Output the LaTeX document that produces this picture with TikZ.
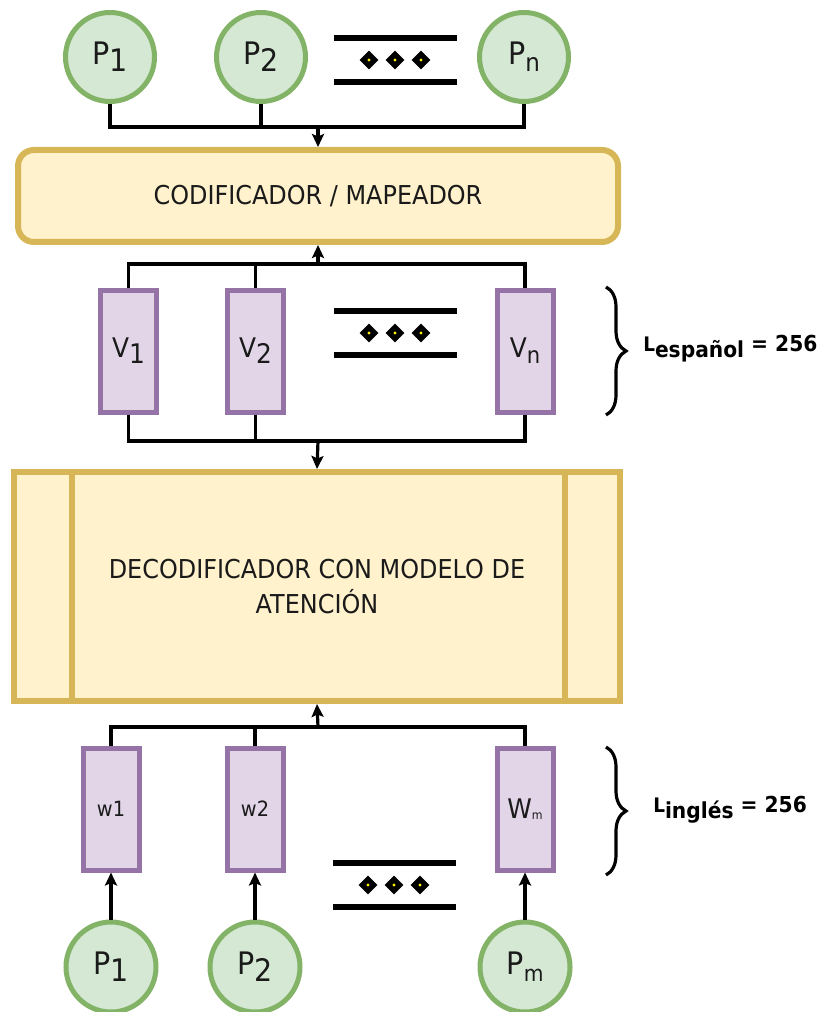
\documentclass[tikz,border=0pt]{standalone}
\usepackage{fontspec}
\setmainfont{DejaVu Sans}[FakeStretch=0.92]
\usetikzlibrary{arrows.meta,shapes.geometric,decorations.pathreplacing}

\definecolor{tokfill}{HTML}{D5E8D4}
\definecolor{tokline}{HTML}{82B366}
\definecolor{vecfill}{HTML}{E1D5E7}
\definecolor{vecline}{HTML}{9673A6}
\definecolor{blkfill}{HTML}{FFF2CC}
\definecolor{blkline}{HTML}{D6B656}
\definecolor{txt}{HTML}{1A1A1A}

% one drawing unit = one pixel = 0.75pt
\newcommand\ppx[1]{#1*0.75pt}
\newcommand\fs[1]{\fontsize{\fpeval{#1*0.75}pt}{\fpeval{#1*0.92}pt}\selectfont}
\newcommand\lowsub[2]{\raisebox{-#1pt}{#2}}

\tikzset{
  token/.style={circle, draw=tokline, fill=tokfill, line width=\ppx{5},
    minimum size=\ppx{89}, inner sep=0pt, text=txt, font=\fs{31}},
  vec/.style={rectangle, draw=vecline, fill=vecfill, line width=\ppx{5},
    minimum width=\ppx{56}, minimum height=\ppx{122}, inner sep=0pt,
    text=txt, font=\fs{27}},
  block/.style={rectangle, draw=blkline, fill=blkfill, line width=\ppx{6},
    inner sep=0pt, text=txt, font=\fs{26}, align=center},
  wire/.style={line width=\ppx{3.2}, draw=black},
  flow/.style={wire, -{Stealth[length=\ppx{13}, width=\ppx{12}, inset=\ppx{2.5}]}},
  bracket/.style={line width=\ppx{3.2}, decorate,
    decoration={brace, amplitude=\ppx{20}, aspect=0.5}},
  lenlabel/.style={anchor=base west, inner sep=0pt, text=black, font=\fs{22}\bfseries},
  bar/.style={line width=\ppx{6}, draw=black},
  gem/.style={diamond, fill=black, minimum size=\ppx{19}, inner sep=0pt},
  ellip/.pic={
    \draw[bar] (-61,-22) -- (62,-22);
    \draw[bar] (-61,22) -- (62,22);
    \foreach \dx in {-26,0,26}{
      \node[gem] at (\dx,0) {};
      \fill[yellow] (\dx,0) circle (1.6);
    }
  }
}

\begin{document}
\begin{tikzpicture}[x=0.75pt, y=-0.75pt]
\useasboundingbox (0,0) rectangle (825,1012);

% source tokens
\node[token] (P1) at (110,57) {P\lowsub{5}{1}};
\node[token] (P2) at (261,57) {P\lowsub{5}{2}};
\node[token] (Pn) at (524,57) {P\lowsub{5}{\fs{25}n}};
\pic at (395,60) {ellip};

% encoder
\node[block, rounded corners=\ppx{16}, minimum width=\ppx{600}, minimum height=\ppx{92}]
  (enc) at (318,196) {CODIFICADOR / MAPEADOR};

% context vectors
\node[vec] (V1) at (128.5,351) {V\lowsub{4.5}{1}};
\node[vec] (V2) at (255.5,351) {V\lowsub{4.5}{2}};
\node[vec] (Vn) at (525,351) {V\lowsub{4.5}{\fs{23}n}};
\pic at (395,333) {ellip};

% decoder with attention
\node[block, minimum width=\ppx{606}, minimum height=\ppx{229}]
  (dec) at (317,586.5) {DECODIFICADOR CON MODELO DE\\[\ppx{3}]ATENCIÓN};
\draw[blkline, line width=\ppx{6}] (dec.north west) ++(61,0) coordinate (dl) -- (dl |- dec.south);
\draw[blkline, line width=\ppx{6}] (dec.north east) ++(-58,0) coordinate (dr) -- (dr |- dec.south);

% target word vectors
\node[vec, font=\fs{21}] (W1) at (111,809) {w1};
\node[vec, font=\fs{21}] (W2) at (255,809) {w2};
\node[vec] (Wm) at (525,809) {W\lowsub{1}{\fs{12}m}};
\pic at (394,885) {ellip};

% target tokens
\node[token, minimum size=\ppx{90}] (Q1) at (111,967) {P\lowsub{5}{1}};
\node[token, minimum size=\ppx{90}] (Q2) at (255,967) {P\lowsub{5}{2}};
\node[token, minimum size=\ppx{90}] (Qm) at (525,967) {P\lowsub{5}{\fs{22}m}};

% junction points
\coordinate (j1) at (318,127);
\coordinate (j2) at (318,264);
\coordinate (j3) at (318,441);
\coordinate (j4) at (318,727);

% tokens into encoder
\draw[wire] (P1.south) |- (j1) -| (Pn.south);
\draw[wire] (P2.south) -- (P2.south |- j1);
\draw[flow] (j1) -- (enc.north);

% encoder to vectors
\draw[wire] (V1.north) |- (j2) -| (Vn.north);
\draw[wire] (V2.north) -- (V2.north |- j2);
\draw[flow] (j2) -- (enc.south);

% vectors into decoder
\draw[wire] (V1.south) |- (j3) -| (Vn.south);
\draw[wire] (V2.south) -- (V2.south |- j3);
\draw[flow] (j3) -- (dec.north);

% word vectors into decoder
\draw[wire] (W1.north) |- (j4) -| (Wm.north);
\draw[wire] (W2.north) -- (W2.north |- j4);
\draw[flow] (j4) -- (dec.south);

% tokens into word vectors
\draw[flow] (Q1.north) -- (W1.south);
\draw[flow] (Q2.north) -- (W2.south);
\draw[flow] (Qm.north) -- (Wm.south);

% sequence lengths
\coordinate (b1t) at (606,287);
\coordinate (b1b) at (606,415);
\draw[bracket] (b1t) -- (b1b);
\node[lenlabel] (len1) at (643,351) {{\fs{20}L}\lowsub{4.5}{español} = 256};

\coordinate (b2t) at (606,747);
\coordinate (b2b) at (606,875);
\draw[bracket] (b2t) -- (b2b);
\node[lenlabel] (len2) at (653,812) {{\fs{20}L}\lowsub{4.5}{inglés} = 256};
\end{tikzpicture}
\end{document}
